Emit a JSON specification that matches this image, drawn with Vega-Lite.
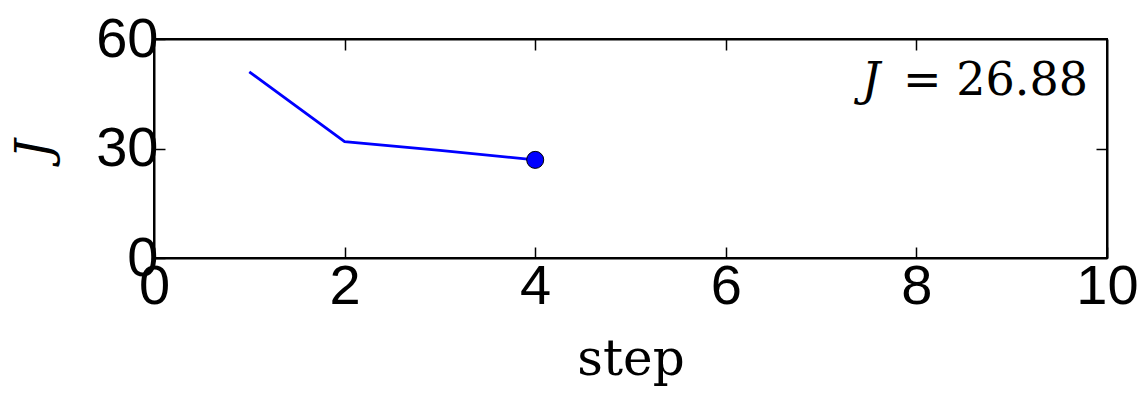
{
  "$schema": "https://vega.github.io/schema/vega-lite/v6.json",
  "width": 953,
  "height": 219,
  "autosize": "none",
  "padding": {"left": 154, "top": 39, "right": 39, "bottom": 139},
  "background": "white",
  "config": {
    "view": {"stroke": "black", "strokeWidth": 2},
    "axis": {
      "grid": false,
      "domainColor": "black",
      "domainWidth": 2,
      "tickColor": "black",
      "tickWidth": 1.5,
      "tickSize": -11,
      "labelFont": "Liberation Sans",
      "labelFontSize": 56,
      "labelColor": "black",
      "titleColor": "black",
      "titleFontWeight": "normal"
    }
  },
  "datasets": {
    "curve": [
      {"step": 1, "J": 51.0},
      {"step": 2, "J": 31.9},
      {"step": 3, "J": 29.5},
      {"step": 4, "J": 26.88}
    ],
    "annot": [
      {"sym": "J", "rest": "= 26.88", "xs": 7.62, "xr": 7.86, "y": 44.7}
    ]
  },
  "layer": [
    {
      "data": {"name": "curve"},
      "mark": {"type": "line", "color": "#0000ff", "strokeWidth": 2.8},
      "encoding": {
        "x": {
          "field": "step", "type": "quantitative",
          "scale": {"domain": [0, 10], "nice": false, "zero": false},
          "axis": {"values": [0, 2, 4, 6, 8, 10], "orient": "bottom", "labelPadding": 12, "labelFlush": false,
                   "title": "step", "titleFont": "DejaVu Serif", "titleFontSize": 50, "titlePadding": 20}
        },
        "y": {
          "field": "J", "type": "quantitative",
          "scale": {"domain": [0, 60], "nice": false},
          "axis": {"values": [0, 30, 60], "orient": "left", "labelPadding": 7, "labelFlush": false,
                   "title": "J", "titleFont": "DejaVu Serif", "titleFontStyle": "italic", "titleFontSize": 48, "titlePadding": 36}
        }
      }
    },
    {
      "data": {"name": "curve"},
      "transform": [{"filter": "datum.step == 4"}],
      "mark": {"type": "point", "shape": "circle", "filled": true, "fill": "#0000ff", "stroke": "black", "strokeWidth": 1, "size": 290, "opacity": 1},
      "encoding": {
        "x": {"field": "step", "type": "quantitative", "axis": {"orient": "top", "values": [2, 4, 6, 8], "labels": false, "title": null}},
        "y": {"field": "J", "type": "quantitative", "axis": {"orient": "right", "values": [30], "labels": false, "title": null}}
      }
    },
    {
      "data": {"name": "annot"},
      "mark": {"type": "text", "font": "DejaVu Serif", "fontStyle": "italic", "fontSize": 46, "align": "right", "baseline": "alphabetic", "color": "black"},
      "encoding": {
        "x": {"field": "xs", "type": "quantitative", "axis": null},
        "y": {"field": "y", "type": "quantitative", "axis": null},
        "text": {"field": "sym"}
      }
    },
    {
      "data": {"name": "annot"},
      "mark": {"type": "text", "font": "DejaVu Serif", "fontSize": 46, "align": "left", "baseline": "alphabetic", "color": "black"},
      "encoding": {
        "x": {"field": "xr", "type": "quantitative", "axis": null},
        "y": {"field": "y", "type": "quantitative", "axis": null},
        "text": {"field": "rest"}
      }
    }
  ],
  "resolve": {"axis": {"x": "independent", "y": "independent"}}
}
